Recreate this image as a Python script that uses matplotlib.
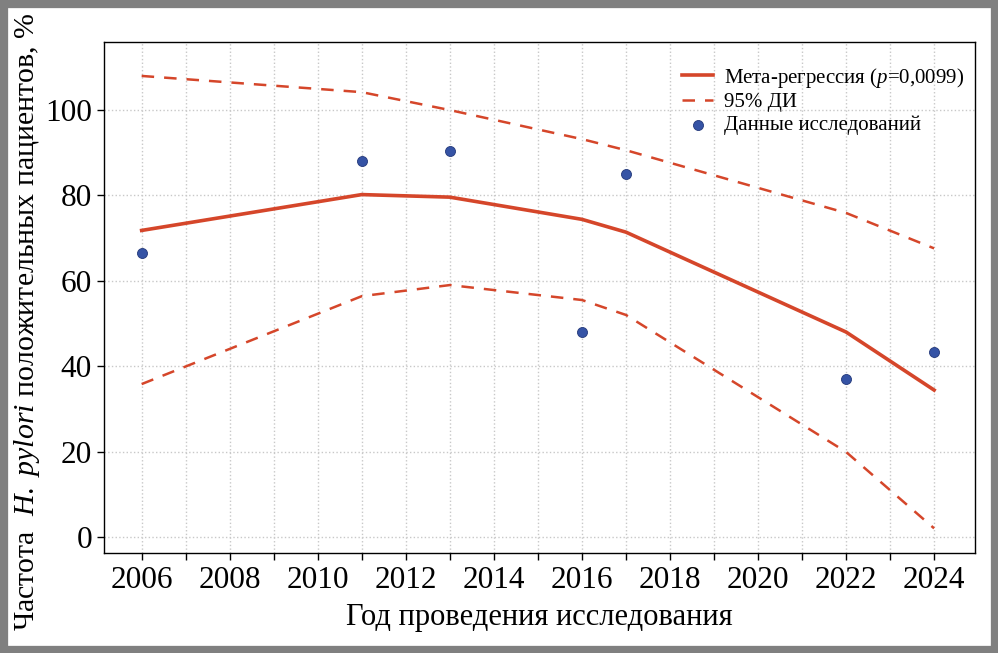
import numpy as np
import matplotlib.pyplot as plt
from matplotlib.patches import Rectangle
from matplotlib.ticker import MultipleLocator

plt.rcParams['font.family'] = ['Liberation Serif', 'DejaVu Serif']
plt.rcParams['mathtext.fontset'] = 'custom'
plt.rcParams['mathtext.rm'] = 'Liberation Serif'
plt.rcParams['mathtext.it'] = 'Liberation Serif:italic'

# regression curve and 95% CI
years = [2006, 2011, 2013, 2016, 2017, 2022, 2024]
fit = [71.8, 80.2, 79.6, 74.4, 71.4, 48.0, 34.4]
ci_upper = [108.0, 104.2, 100.0, 93.2, 90.6, 75.9, 67.6]
ci_lower = [35.8, 56.4, 59.0, 55.5, 52.0, 19.9, 2.0]

# study data points
study_years = [2006, 2011, 2013, 2016, 2017, 2022, 2024]
study_vals = [66.5, 88.0, 90.3, 48.0, 85.0, 37.0, 43.2]

red = '#d5462a'
blue = '#3553a5'

fig = plt.figure(figsize=(9.98, 6.53), dpi=100)
ax = fig.add_axes([0.104, 0.153, 0.873, 0.783])

ax.plot(years, fit, color=red, lw=2.6, label=r'Мета-регрессия ($p$=0,0099)')
ax.plot(years, ci_upper, color=red, lw=1.8, ls=(0, (5, 4)), label='95% ДИ')
ax.plot(years, ci_lower, color=red, lw=1.8, ls=(0, (5, 4)))
ax.scatter(study_years, study_vals, s=52, color=blue, edgecolor='#24397a',
           lw=0.6, zorder=3, label='Данные исследований')

ax.set_xlim(2005.14, 2024.93)
ax.set_ylim(-3.8, 116)
ax.xaxis.set_major_locator(MultipleLocator(2))
ax.xaxis.set_minor_locator(MultipleLocator(1))
ax.yaxis.set_major_locator(MultipleLocator(20))
ax.grid(True, which='both', axis='x', color='#c8c8c8', ls=':', lw=1)
ax.grid(True, which='major', axis='y', color='#c8c8c8', ls=':', lw=1)
ax.set_axisbelow(True)

ax.tick_params(axis='both', which='both', direction='out', length=5, width=1,
               labelsize=22.5, color='black')
ax.tick_params(axis='x', pad=4)
ax.set_xlabel('Год проведения исследования', fontsize=22, labelpad=6)
ax.set_ylabel(r'Частота  $H.\ pylori$ положительных пациентов, %', fontsize=21.5)
ax.yaxis.set_label_coords(-0.071, 0.452)
for s in ax.spines.values():
    s.set_linewidth(1)

ax.legend(loc='upper right', bbox_to_anchor=(1.004, 0.982), frameon=False,
          fontsize=15, handlelength=1.5, labelspacing=0.15, borderaxespad=0.3,
          handletextpad=0.5)

fig.add_artist(Rectangle((0, 0), 1, 1, transform=fig.transFigure, fill=False,
                         edgecolor='#808080', lw=11))

fig.savefig('out.png', dpi=100)
